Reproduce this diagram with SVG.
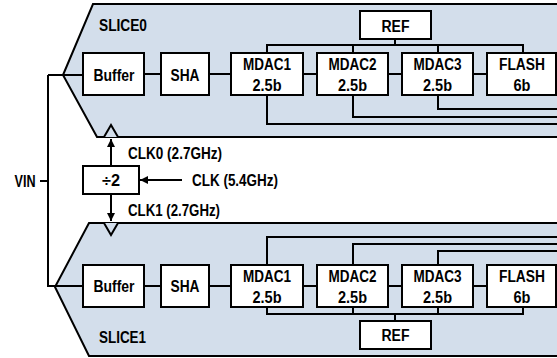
<svg xmlns="http://www.w3.org/2000/svg" width="557" height="358" viewBox="0 0 557 358">
<style>
.slice{fill:#d3deeb;stroke:#000;stroke-width:2;stroke-linejoin:miter}
.box{fill:#fff;stroke:#000;stroke-width:2}
.w{fill:none;stroke:#000;stroke-width:2}
text{font-family:"Liberation Sans",Arial,sans-serif;font-weight:bold;font-size:16px;fill:#000}
.m{text-anchor:middle}
</style>
<defs>
<marker id="ah" markerUnits="userSpaceOnUse" markerWidth="9" markerHeight="9" refX="8" refY="4" orient="auto">
<path d="M0,0 L8,4 L0,8 z" fill="#000"/>
</marker>
</defs>
<g id="slice0">
<polygon class="slice" points="93,4 560,4 560,137 97,137 63,75"/>
<polyline class="slice" points="104,137 111,125 118,137"/>
<text x="123" y="30.7" class="m" textLength="48" lengthAdjust="spacingAndGlyphs">SLICE0</text>
</g>
<g id="slice1">
<polygon class="slice" points="89,223 560,223 560,356 89,356 55,287"/>
<polyline class="slice" points="104,223 111,235 118,223"/>
<text x="122.5" y="342.7" class="m" textLength="47" lengthAdjust="spacingAndGlyphs">SLICE1</text>
</g>
<g id="connectors">
<path class="w" d="M40,181 H48 M48,75 V286 H83 M48,75 H83"/>
<path class="w" d="M144,74 H161 M209,74 H231 M303,74 H317 M388,74 H402 M473,74 H487"/>
<path class="w" d="M267,53 V45 H523 V53 M353,45 V53 M438,45 V53 M395,39 V45"/>
<path class="w" d="M267,95 V124 H560 M353,95 V117 H560 M438,95 V109 H560"/>
<path class="w" d="M144,286 H161 M209,286 H231 M303,286 H317 M388,286 H402 M473,286 H487"/>
<path class="w" d="M267,265 V237 H560 M353,265 V244 H560 M438,265 V251 H560"/>
<path class="w" d="M267,307 V314 H523 V307 M353,307 V314 M438,307 V314 M395,314 V321"/>
<path class="w" d="M111,166 V139" marker-end="url(#ah)"/>
<path class="w" d="M111,194 V221" marker-end="url(#ah)"/>
<path class="w" d="M182,180 H140" marker-end="url(#ah)"/>
</g>
<g id="buffer0"><rect class="box" x="83" y="53" width="61" height="42"/><text x="114" y="80.7" class="m" textLength="41" lengthAdjust="spacingAndGlyphs">Buffer</text></g>
<g id="sha0"><rect class="box" x="161" y="53" width="48" height="42"/><text x="185" y="80.7" class="m" textLength="29" lengthAdjust="spacingAndGlyphs">SHA</text></g>
<g id="mdac1_0"><rect class="box" x="231" y="53" width="72" height="42"/><text x="267" y="69.7" class="m" textLength="48" lengthAdjust="spacingAndGlyphs">MDAC1</text><text x="267" y="90.7" class="m" textLength="29" lengthAdjust="spacingAndGlyphs">2.5b</text></g>
<g id="mdac2_0"><rect class="box" x="317" y="53" width="71" height="42"/><text x="352.5" y="69.7" class="m" textLength="48" lengthAdjust="spacingAndGlyphs">MDAC2</text><text x="352.5" y="90.7" class="m" textLength="29" lengthAdjust="spacingAndGlyphs">2.5b</text></g>
<g id="mdac3_0"><rect class="box" x="402" y="53" width="71" height="42"/><text x="437.5" y="69.7" class="m" textLength="48" lengthAdjust="spacingAndGlyphs">MDAC3</text><text x="437.5" y="90.7" class="m" textLength="29" lengthAdjust="spacingAndGlyphs">2.5b</text></g>
<g id="flash0"><rect class="box" x="487" y="53" width="69" height="42"/><text x="522" y="69.7" class="m" textLength="46" lengthAdjust="spacingAndGlyphs">FLASH</text><text x="522" y="90.7" class="m" textLength="17" lengthAdjust="spacingAndGlyphs">6b</text></g>
<g id="ref0"><rect class="box" x="360" y="11" width="71" height="28"/><text x="395.5" y="31.7" class="m" textLength="28" lengthAdjust="spacingAndGlyphs">REF</text></g>
<g id="buffer1"><rect class="box" x="83" y="265" width="61" height="42"/><text x="114" y="291.7" class="m" textLength="41" lengthAdjust="spacingAndGlyphs">Buffer</text></g>
<g id="sha1"><rect class="box" x="161" y="265" width="48" height="42"/><text x="185" y="291.7" class="m" textLength="29" lengthAdjust="spacingAndGlyphs">SHA</text></g>
<g id="mdac1_1"><rect class="box" x="231" y="265" width="72" height="42"/><text x="267" y="281.7" class="m" textLength="48" lengthAdjust="spacingAndGlyphs">MDAC1</text><text x="267" y="302.7" class="m" textLength="29" lengthAdjust="spacingAndGlyphs">2.5b</text></g>
<g id="mdac2_1"><rect class="box" x="317" y="265" width="71" height="42"/><text x="352.5" y="281.7" class="m" textLength="48" lengthAdjust="spacingAndGlyphs">MDAC2</text><text x="352.5" y="302.7" class="m" textLength="29" lengthAdjust="spacingAndGlyphs">2.5b</text></g>
<g id="mdac3_1"><rect class="box" x="402" y="265" width="71" height="42"/><text x="437.5" y="281.7" class="m" textLength="48" lengthAdjust="spacingAndGlyphs">MDAC3</text><text x="437.5" y="302.7" class="m" textLength="29" lengthAdjust="spacingAndGlyphs">2.5b</text></g>
<g id="flash1"><rect class="box" x="487" y="265" width="69" height="42"/><text x="522" y="281.7" class="m" textLength="46" lengthAdjust="spacingAndGlyphs">FLASH</text><text x="522" y="302.7" class="m" textLength="17" lengthAdjust="spacingAndGlyphs">6b</text></g>
<g id="ref1"><rect class="box" x="360" y="321" width="71" height="28"/><text x="395.5" y="340.7" class="m" textLength="28" lengthAdjust="spacingAndGlyphs">REF</text></g>
<g id="div2"><rect class="box" x="83" y="166" width="56" height="28"/><text x="111" y="185.7" class="m" textLength="18" lengthAdjust="spacingAndGlyphs">÷2</text></g>
<g id="labels">
<text x="25" y="186.7" class="m" textLength="21" lengthAdjust="spacingAndGlyphs">VIN</text>
<text x="128" y="158.7" textLength="94" lengthAdjust="spacingAndGlyphs">CLK0 (2.7GHz)</text>
<text x="192" y="185.7" textLength="86" lengthAdjust="spacingAndGlyphs">CLK (5.4GHz)</text>
<text x="128" y="215.7" textLength="92" lengthAdjust="spacingAndGlyphs">CLK1 (2.7GHz)</text>
</g>
</svg>
